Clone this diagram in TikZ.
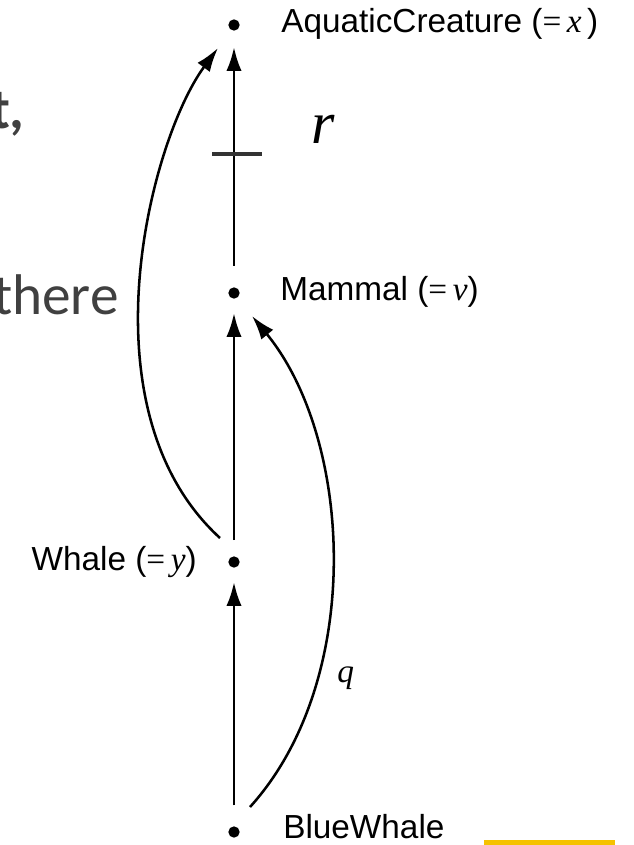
\documentclass[tikz,border=0pt]{standalone}
\usepackage{fontspec}
\setmainfont{Liberation Sans}
\newfontfamily\tms{Liberation Serif}
\newfontfamily\slidefont{Carlito}
\usetikzlibrary{arrows.meta,calc}
\definecolor{slidegray}{HTML}{404040}
\definecolor{gold}{HTML}{F5C200}
\definecolor{bargray}{HTML}{333333}
\begin{document}
\begin{tikzpicture}[x=0.75pt,y=-0.75pt,
  dot/.style={circle,fill=black,inner sep=0pt,minimum size=8.5pt},
  lbl/.style={font=\fontsize{25}{28}\selectfont,inner sep=0pt},
  tip/.style={-{Latex[length=18pt,width=11.5pt]}},
  straight/.style={tip,line width=2.2pt},
  bent/.style={tip,line width=1.9pt},
  slide/.style={font=\slidefont\fontsize{43}{48}\selectfont,text=slidegray,inner sep=0pt},
]
\useasboundingbox (0,0) rectangle (634,845);
\fill[gold] (484,840) rectangle (615,845);

% slide remnants
\node[slide,font=\slidefont\bfseries\fontsize{43}{48}\selectfont,anchor=base east] (s1) at (25,128) {t,};
\node[slide,anchor=base east] (s2) at (119,314) {there};

% dots
\node[dot] (a) at (234,25) {};
\node[dot] (m) at (234,293) {};
\node[dot] (w) at (234,562) {};
\node[dot] (b) at (234,832) {};

% labels
\node[lbl,anchor=base west] (la) at (281,33) {AquaticCreature ({\tms=\,\itshape x\,})};
\node[lbl,anchor=base west] (lm) at (280,300) {Mammal ({\tms=\,\itshape v})};
\node[lbl,anchor=base east] (lw) at (197,570) {Whale ({\tms=\,\itshape y})};
\node[lbl,anchor=base west] (lb) at (283,838) {BlueWhale};

% straight arrows
\draw[straight,shorten <=16pt,shorten >=12pt] (m) -- (a);
\draw[straight,shorten <=12pt,shorten >=10.5pt] (w) -- (m);
\draw[straight,shorten <=15.5pt,shorten >=10.5pt] (b) -- (w);

% cross bar
\draw[bargray,line width=2.5pt] (212,154) -- (262,154);
\node[font=\tms\itshape\fontsize{45}{48}\selectfont,anchor=base west,inner sep=0pt] (r) at (311,144) {r};

% curved arrows
\coordinate (wl) at ($(w)+(-14,-24)$);
\coordinate (al) at ($(a)+(-16,23)$);
\coordinate (br) at ($(b)+(16,-25)$);
\coordinate (mr) at ($(m)+(18,23)$);
\draw[bent] (wl) .. controls (80,410) and (150,140) .. (al);
\draw[bent] (br) .. controls (365,680) and (353,439) .. (mr);
\node[font=\tms\itshape\fontsize{25}{28}\selectfont,anchor=base west,inner sep=0pt] (q) at (337,682) {q};
\end{tikzpicture}
\end{document}
